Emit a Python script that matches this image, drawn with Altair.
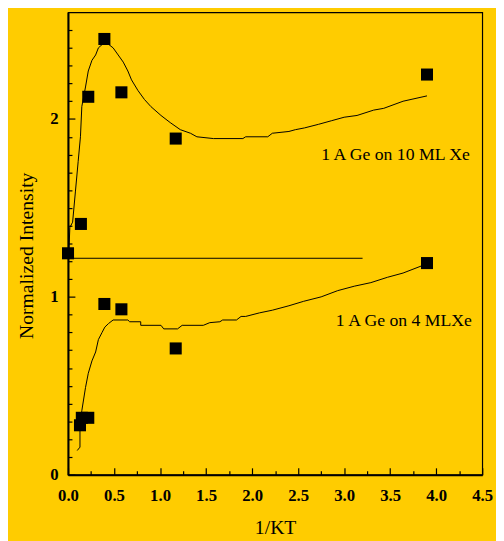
import altair as alt
import pandas as pd

# ---- data ----
c10_x = [0.01, 0.02, 0.05, 0.08, 0.11, 0.135, 0.15, 0.19, 0.22, 0.26, 0.30, 0.33, 0.395, 0.44, 0.49,
         0.545, 0.60, 0.65, 0.69, 0.76, 0.83, 0.90, 1.01, 1.11, 1.22, 1.33, 1.40, 1.58, 1.90, 1.93,
         2.17, 2.22, 2.40, 2.47, 2.57, 2.72, 2.86, 3.00, 3.14, 3.32, 3.43, 3.64, 3.90]
c10_y = [1.26, 1.39, 1.42, 1.59, 1.76, 1.90, 2.07, 2.18, 2.27, 2.33, 2.36, 2.40, 2.43, 2.42, 2.40,
         2.36, 2.32, 2.27, 2.22, 2.16, 2.11, 2.07, 2.02, 1.98, 1.94, 1.92, 1.90, 1.89, 1.89, 1.90,
         1.90, 1.92, 1.93, 1.94, 1.95, 1.97, 1.99, 2.01, 2.02, 2.05, 2.06, 2.10, 2.13]

c4_x = [0.10, 0.13, 0.13, 0.15, 0.19, 0.22, 0.26, 0.30, 0.33, 0.37, 0.40, 0.44, 0.49, 0.65, 0.67,
        0.79, 0.79, 1.01, 1.04, 1.19, 1.24, 1.47, 1.54, 1.65, 1.68, 1.83, 1.88, 1.93, 2.08, 2.22,
        2.40, 2.56, 2.75, 2.93, 3.11, 3.29, 3.47, 3.64, 3.90]
c4_y = [0.136, 0.155, 0.28, 0.36, 0.49, 0.57, 0.64, 0.69, 0.76, 0.80, 0.83, 0.85, 0.87, 0.87, 0.86,
        0.86, 0.84, 0.84, 0.82, 0.82, 0.84, 0.84, 0.855, 0.86, 0.87, 0.87, 0.89, 0.89, 0.91, 0.925,
        0.95, 0.975, 1.00, 1.035, 1.06, 1.08, 1.11, 1.134, 1.186]

ref_x = [0.0, 3.2]
ref_y = [1.217, 1.217]

p10_x = [0.0, 0.14, 0.22, 0.395, 0.58, 1.17, 3.90]
p10_y = [1.245, 1.41, 2.125, 2.45, 2.15, 1.89, 2.25]
p4_x = [0.13, 0.15, 0.22, 0.395, 0.58, 1.17, 3.90]
p4_y = [0.278, 0.32, 0.32, 0.96, 0.93, 0.71, 1.19]

label_text = ["1 A Ge on 10 ML Xe", "1 A Ge on 4 MLXe"]
label_x = [2.75, 2.91]
label_y = [1.77, 0.835]

x_major = [0.0, 0.5, 1.0, 1.5, 2.0, 2.5, 3.0, 3.5, 4.0, 4.5]
x_minor = [0.25, 0.75, 1.25, 1.75, 2.25, 2.75, 3.25, 3.75, 4.25]
y_major = [0, 1, 2]
y_minor = [0.1, 0.2, 0.3, 0.4, 0.5, 0.6, 0.7, 0.8, 0.9,
           1.1, 1.2, 1.3, 1.4, 1.5, 1.6, 1.7, 1.8, 1.9,
           2.1, 2.2, 2.3, 2.4, 2.5]

BG = "#FFCC00"
SERIF = "Liberation Serif"

c10 = pd.DataFrame({"x": c10_x, "y": c10_y})
c4 = pd.DataFrame({"x": c4_x, "y": c4_y})
ref = pd.DataFrame({"x": ref_x, "y": ref_y})
pts = pd.DataFrame({"x": p10_x + p4_x, "y": p10_y + p4_y})
labels = pd.DataFrame({"x": label_x, "y": label_y, "t": label_text})

xs = alt.Scale(domain=[0, 4.5], nice=False, zero=False)
ys = alt.Scale(domain=[0, 2.6], nice=False, zero=False)

x_lab_axis = alt.Axis(orient="bottom", values=x_major, format=".1f", ticks=False, grid=False,
                      labelFlush=False, labelOverlap=False,
                      domainColor="black", domainWidth=2, labelFont=SERIF, labelFontWeight="bold",
                      labelFontSize=17, labelColor="black", labelPadding=13,
                      title="1/KT", titleFont=SERIF, titleFontWeight="normal", titleFontSize=20,
                      titleColor="black", titlePadding=15)
y_lab_axis = alt.Axis(orient="left", values=y_major, format="d", ticks=False, grid=False,
                      labelFlush=False, labelOverlap=False,
                      domainColor="black", domainWidth=2, labelFont=SERIF, labelFontWeight="bold",
                      labelFontSize=17, labelColor="black", labelPadding=10,
                      title="Normalized Intensity", titleFont=SERIF, titleFontWeight="normal",
                      titleFontSize=20, titleColor="black", titlePadding=14, titleY=247)


def tick_axes(xvals, yvals, size):
    # tick-only axes placed on the opposite side and shifted onto the frame,
    # so that their ticks point into the plot
    ax = alt.Axis(orient="top", offset=-470, values=xvals, labels=False, domain=False,
                  grid=False, title="", tickColor="black", tickWidth=1.2, tickSize=size)
    ay = alt.Axis(orient="right", offset=-421, values=yvals, labels=False, domain=False,
                  grid=False, title="", tickColor="black", tickWidth=1.2, tickSize=size)
    return ax, ay


maj_x, maj_y = tick_axes(x_major, y_major, 7)
min_x, min_y = tick_axes(x_minor, y_minor, 4)

curve10 = alt.Chart(c10).mark_line(color="black", strokeWidth=1).encode(
    x=alt.X("x:Q", scale=xs, axis=x_lab_axis),
    y=alt.Y("y:Q", scale=ys, axis=y_lab_axis),
)
curve4 = alt.Chart(c4).mark_line(color="black", strokeWidth=1).encode(
    x=alt.X("x:Q", scale=xs, axis=maj_x),
    y=alt.Y("y:Q", scale=ys, axis=maj_y),
)
refline = alt.Chart(ref).mark_line(color="black", strokeWidth=1).encode(
    x=alt.X("x:Q", scale=xs, axis=min_x),
    y=alt.Y("y:Q", scale=ys, axis=min_y),
)
points = alt.Chart(pts).mark_point(shape="square", filled=True, color="black", size=150, opacity=1).encode(
    x=alt.X("x:Q", scale=xs, axis=None),
    y=alt.Y("y:Q", scale=ys, axis=None),
)
texts = alt.Chart(labels).mark_text(align="left", baseline="alphabetic", font=SERIF,
                                    fontSize=18, color="black").encode(
    x=alt.X("x:Q", scale=xs, axis=None),
    y=alt.Y("y:Q", scale=ys, axis=None),
    text="t:N",
)

chart = alt.layer(curve10, curve4, refline, points, texts).resolve_axis(
    x="independent", y="independent"
).properties(
    width=421, height=470,
    autosize=alt.AutoSizeParams(type="none"),
    padding={"left": 61, "top": 0, "right": 14, "bottom": 63},
    background=BG,
).configure_view(stroke="black", strokeWidth=1.2)

chart.save("out.html", embed_options={"renderer": "svg", "actions": False})
